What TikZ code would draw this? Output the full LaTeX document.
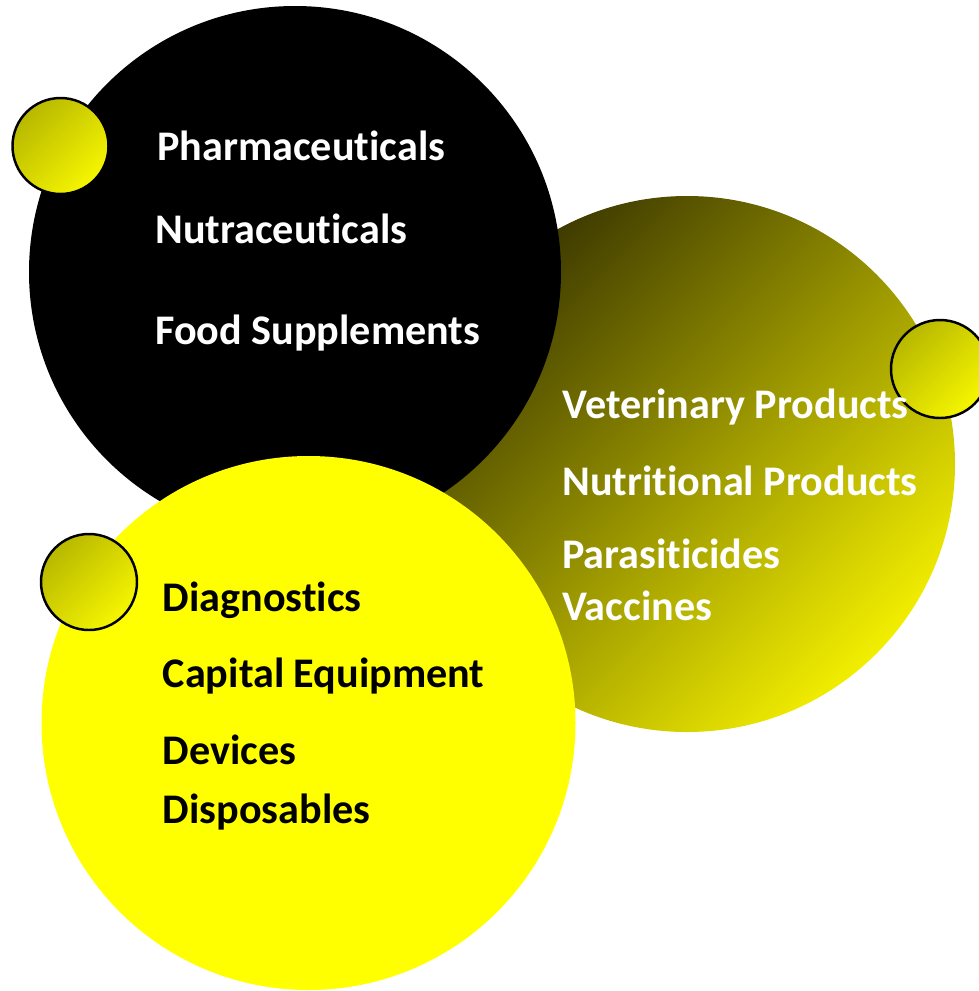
\documentclass[tikz,border=0pt]{standalone}
\usepackage{fontspec}
\setmainfont[Ligatures=NoCommon]{Carlito}
\usepackage{tikz}
\definecolor{myellow}{RGB}{255,255,0}
\definecolor{molive}{RGB}{60,56,0}
\definecolor{mbright}{RGB}{242,238,0}
\definecolor{mbead}{RGB}{184,184,0}
\definecolor{mbeadlight}{RGB}{246,246,0}
\tikzset{item/.style = {anchor=base west, inner sep=0pt,
                        font=\fontsize{24}{28}\selectfont\bfseries},
         bead/.style = {draw=black, line width=1.4pt, top color=mbead,
                        bottom color=mbeadlight, shading angle=45}}

\begin{document}
\begin{tikzpicture}[x=0.02cm, y=-0.02cm]
    \useasboundingbox (0, 0) rectangle (979, 991);
    \shade [top color=molive, bottom color=mbright, shading angle=45] (687, 464) circle (268);
    \fill [black] (295, 272) circle (266);
    \fill [myellow] (308.5, 723) circle (267);
    \path [bead] (60.5, 146) circle (48);
    \path [bead] (940, 369) circle (49);
    \path [bead] (89, 582) circle (48);

    \node [item, white] (pharma) at (157, 160) {Pharmaceuticals};
    \node [item, white] (nutra) at (155, 243) {Nutraceuticals};
    \node [item, white] (food) at (155, 344.5) {Food Supplements};

    \node [item, white] (vet) at (562, 418.5) {Veterinary Products};
    \node [item, white] (nutri) at (562, 495) {Nutritional Products};
    \node [item, white] (para) at (562, 568.5) {Parasiticides};
    \node [item, white] (vacc) at (562, 620) {Vaccines};

    \node [item] (diag) at (162.5, 611.5) {Diagnostics};
    \node [item] (capital) at (162.5, 687.5) {Capital Equipment};
    \node [item] (devices) at (162.5, 764) {Devices};
    \node [item] (dispo) at (162.5, 823) {Disposables};
  \end{tikzpicture}
\end{document}
